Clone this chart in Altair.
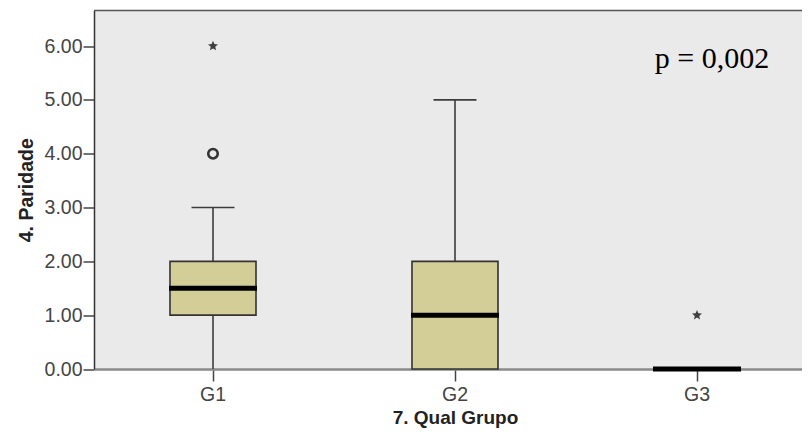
import math
import altair as alt
import pandas as pd

# ---- data ----
groups = ["G1", "G2", "G3"]
lower = [0.0, 0.0, 0.0]
q1 = [1.0, 0.0, 0.0]
median = [1.5, 1.0, 0.0]
q3 = [2.0, 2.0, 0.0]
upper = [3.0, 5.0, 0.0]

outlier_groups = ["G1"]          # open circles
outlier_values = [4.0]
extreme_groups = ["G1", "G3"]    # stars
extreme_values = [6.0, 1.0]

y_ticks = [0, 1, 2, 3, 4, 5, 6]
annotation_text = ["p = 0,002"]
annotation_group = ["G3"]
annotation_value = [5.75]

stats = pd.DataFrame({"grupo": groups, "lower": lower, "q1": q1,
                      "median": median, "q3": q3, "upper": upper})
outl = pd.DataFrame({"grupo": outlier_groups, "valor": outlier_values})
extr = pd.DataFrame({"grupo": extreme_groups, "valor": extreme_values})
ann = pd.DataFrame({"grupo": annotation_group, "valor": annotation_value,
                    "txt": annotation_text})
border = pd.DataFrame({"k": [0]})

W, H = 708, 358.5

# star symbol path (unit box)
pts = []
for k in range(10):
    a = -math.pi / 2 + k * math.pi / 5
    r = 1.0 if k % 2 == 0 else 0.45
    pts.append(f"{r*math.cos(a):.3f},{r*math.sin(a):.3f}")
star_path = "M" + " L".join(pts) + " Z"

FONT = "Liberation Sans"
xscale = alt.Scale(domain=groups, paddingInner=0.5, paddingOuter=0.2128, align=0.568)
yscale = alt.Scale(domain=[0, 6.66], nice=False, zero=True)

x_axis = alt.Axis(title="7. Qual Grupo", labelAngle=0, labelFont=FONT, labelFontSize=19.5,
                  labelColor="#444444", labelPadding=4, tickSize=12, tickColor="#444444",
                  tickWidth=1.5, domainColor="#8a8a8a", domainWidth=2.5, grid=False,
                  titleFont=FONT, titleFontSize=19, titleFontWeight="bold",
                  titleColor="#222222", titlePadding=5, titleX=361)
y_axis = alt.Axis(title="4. Paridade", values=y_ticks, format=".2f", labelFont=FONT,
                  labelFontSize=19.5, labelColor="#444444", labelPadding=1, tickSize=11,
                  tickColor="#444444", tickWidth=1.5, domainColor="#333333",
                  domainWidth=1.5, grid=False, titleFont=FONT, titleFontSize=19.5,
                  titleFontWeight="bold", titleColor="#222222", titlePadding=8)


def X():
    return alt.X("grupo:N", scale=xscale, sort=groups, axis=x_axis)


def Y(field):
    return alt.Y(f"{field}:Q", scale=yscale, axis=y_axis)


whisk_lo = alt.Chart(stats).mark_rule(color="#3c3c3c", strokeWidth=1.6).encode(
    x=X(), y=Y("lower"), y2="q1")
whisk_hi = alt.Chart(stats).mark_rule(color="#3c3c3c", strokeWidth=1.6).encode(
    x=X(), y=Y("q3"), y2="upper")
cap_hi = alt.Chart(stats).mark_tick(size=43, thickness=1.6, color="#3c3c3c", opacity=1).encode(
    x=X(), y=Y("upper"))
box = alt.Chart(stats).mark_bar(size=86, fill="#d3ce98", stroke="#333333",
                                strokeWidth=1.6).encode(x=X(), y=Y("q1"), y2="q3")
med = alt.Chart(stats).mark_tick(size=88, thickness=5, color="#000000", opacity=1).encode(
    x=X(), y=Y("median"))
circ = alt.Chart(outl).mark_point(shape="circle", size=90, filled=False, stroke="#333333",
                                  strokeWidth=2.6, opacity=1).encode(x=X(), y=Y("valor"))
stars = alt.Chart(extr).mark_point(shape=star_path, size=110, filled=True, fill="#404040",
                                   strokeWidth=0, opacity=1).encode(x=X(), y=Y("valor"))
label = alt.Chart(ann).mark_text(font="Liberation Serif", fontSize=30, color="#000000",
                                 align="center", baseline="middle", dx=15).encode(
    x=X(), y=Y("valor"), text="txt:N")
top = alt.Chart(border).mark_rule(color="#555555", strokeWidth=1.5).encode(
    x=alt.value(0), x2=alt.value(W), y=alt.value(0))

chart = alt.layer(whisk_lo, whisk_hi, cap_hi, box, med, circ, stars, label, top).properties(
    width=W, height=H, autosize="none",
    padding={"left": 86, "top": 2.5, "right": 0, "bottom": 61},
).configure_view(fill="#eaeaea", stroke=None)

chart.save("out.html", embed_options={"renderer": "svg", "actions": False})
